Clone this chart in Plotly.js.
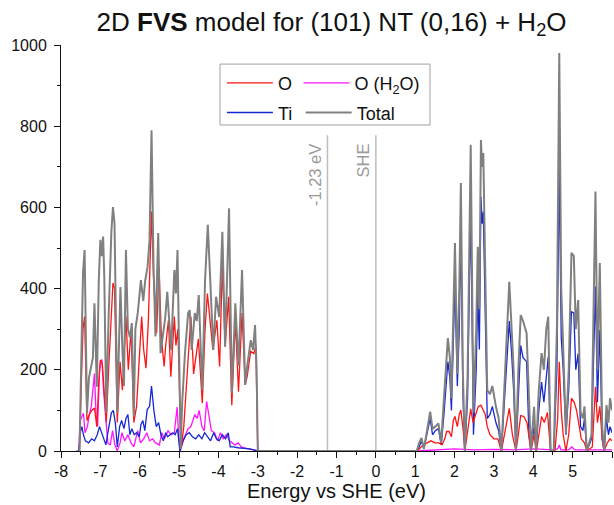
<!DOCTYPE html>
<html>
<head>
<meta charset="utf-8">
<script src="https://cdn.plot.ly/plotly-3.0.1.min.js"></script>
<style>html,body{margin:0;padding:0;background:#fff;}#chart{width:614px;height:505px;}</style>
</head>
<body>
<div id="chart"></div>
<script>
// Energy (eV vs SHE) / density-of-states pairs
const totalDOS = [
[-7.60,0],[-7.53,0],[-7.48,250],[-7.44,440],[-7.40,495],[-7.37,300],[-7.34,94],[-7.29,180],[-7.23,216],[-7.19,230],
[-7.15,364],[-7.09,158],[-7.04,420],[-7.00,520],[-6.97,480],[-6.93,528],[-6.90,430],[-6.85,94],[-6.79,330],[-6.72,540],
[-6.68,601],[-6.64,560],[-6.57,94],[-6.53,250],[-6.49,404],[-6.44,250],[-6.40,160],[-6.35,495],[-6.30,300],[-6.25,280],
[-6.20,315],[-6.15,85],[-6.11,300],[-6.05,340],[-5.97,421],[-5.91,370],[-5.86,420],[-5.80,454],[-5.75,520],[-5.70,790],
[-5.65,460],[-5.60,282],[-5.53,537],[-5.47,241],[-5.41,290],[-5.35,330],[-5.30,392],[-5.23,280],[-5.20,249],[-5.12,446],
[-5.08,388],[-5.04,495],[-4.96,5],[-4.92,120],[-4.85,241],[-4.77,340],[-4.73,347],[-4.68,249],[-4.60,340],[-4.55,320],
[-4.50,384],[-4.41,150],[-4.34,420],[-4.27,557],[-4.20,400],[-4.13,249],[-4.06,380],[-3.98,330],[-3.90,540],[-3.83,257],
[-3.73,598],[-3.66,142],[-3.57,364],[-3.49,210],[-3.40,446],[-3.32,163],[-3.27,208],[-3.18,273],[-3.12,249],[-3.07,310],
[-3.03,200],[-3.00,0],
[1.04,0],[1.10,20],[1.16,32],[1.22,5],[1.30,50],[1.38,97],[1.44,55],[1.51,60],[1.59,68],[1.66,20],
[1.73,130],[1.83,278],[1.88,230],[1.92,130],[2.01,512],[2.07,190],[2.12,400],[2.16,660],[2.21,200],[2.26,0],
[2.33,182],[2.41,754],[2.48,94],[2.55,300],[2.59,503],[2.63,350],[2.67,766],[2.70,700],[2.73,734],[2.78,400],
[2.83,150],[2.90,140],[2.96,160],[3.05,110],[3.12,80],[3.19,0],[3.28,200],[3.39,417],[3.45,300],[3.50,200],
[3.56,0],[3.62,200],[3.68,335],[3.74,320],[3.83,290],[3.89,100],[3.94,0],[4.02,109],[4.07,0],[4.14,150],
[4.21,241],[4.27,200],[4.33,300],[4.38,331],[4.44,0],[4.52,0],[4.60,300],[4.66,980],[4.71,400],[4.76,253],
[4.83,44],[4.90,200],[4.97,488],[5.03,480],[5.08,300],[5.14,372],[5.20,97],[5.26,80],[5.30,110],[5.36,0],
[5.48,40],[5.58,639],[5.63,200],[5.69,463],[5.75,60],[5.80,0],[5.86,113],[5.91,70],[5.95,130],[6.00,100]
];
const oxygenDOS = [
[-7.60,0],[-7.53,0],[-7.48,180],[-7.44,300],[-7.40,331],[-7.37,200],[-7.34,75],[-7.28,90],[-7.22,100],[-7.15,106],
[-7.09,60],[-7.04,170],[-7.00,224],[-6.95,215],[-6.90,130],[-6.85,70],[-6.79,200],[-6.73,330],[-6.68,414],[-6.64,400],
[-6.57,70],[-6.50,220],[-6.44,150],[-6.35,331],[-6.29,200],[-6.22,300],[-6.15,70],[-6.08,110],[-6.01,220],[-5.95,331],
[-5.90,250],[-5.84,204],[-5.78,322],[-5.74,462],[-5.70,590],[-5.65,430],[-5.57,290],[-5.51,454],[-5.45,280],[-5.38,208],
[-5.34,260],[-5.27,322],[-5.21,183],[-5.12,331],[-5.08,260],[-5.03,300],[-4.95,5],[-4.88,60],[-4.77,241],[-4.70,331],
[-4.63,190],[-4.57,230],[-4.51,276],[-4.41,118],[-4.34,300],[-4.28,388],[-4.22,330],[-4.14,249],[-4.04,322],[-3.97,208],
[-3.90,462],[-3.83,257],[-3.74,380],[-3.66,113],[-3.57,322],[-3.49,146],[-3.40,340],[-3.32,163],[-3.27,183],[-3.18,246],
[-3.10,240],[-3.05,260],[-3.00,0],
[1.04,0],[1.10,5],[1.20,15],[1.30,20],[1.40,25],[1.50,20],[1.60,20],[1.68,15],[1.75,30],[1.80,48],
[1.86,48],[1.92,35],[1.97,76],[2.01,85],[2.07,60],[2.12,90],[2.16,101],[2.22,50],[2.26,0],[2.32,40],
[2.41,104],[2.47,70],[2.53,90],[2.60,109],[2.67,113],[2.73,100],[2.78,90],[2.83,60],[2.90,40],[3.00,30],
[3.10,30],[3.19,0],[3.28,50],[3.39,105],[3.47,40],[3.56,0],[3.62,40],[3.68,87],[3.76,85],[3.84,70],
[3.94,0],[4.02,40],[4.08,0],[4.14,40],[4.21,85],[4.28,70],[4.36,95],[4.44,0],[4.55,0],[4.62,80],
[4.66,220],[4.71,100],[4.76,40],[4.83,0],[4.90,40],[4.97,130],[5.04,120],[5.10,100],[5.16,60],[5.22,30],
[5.30,20],[5.36,0],[5.50,10],[5.58,158],[5.63,70],[5.69,110],[5.75,30],[5.80,0],[5.88,20],[5.95,30],[6.00,25]
];
const waterOxygenDOS = [
[-7.60,0],[-7.55,0],[-7.51,76],[-7.46,90],[-7.43,93],[-7.39,45],[-7.33,60],[-7.28,90],[-7.23,110],[-7.15,191],
[-7.11,90],[-7.07,60],[-7.02,200],[-6.99,222],[-6.96,225],[-6.92,150],[-6.86,80],[-6.81,20],[-6.75,15],[-6.69,50],
[-6.63,15],[-6.57,0],[-6.50,20],[-6.45,45],[-6.38,25],[-6.30,40],[-6.22,20],[-6.15,10],[-6.05,50],[-5.98,20],
[-5.90,30],[-5.82,45],[-5.75,25],[-5.67,30],[-5.60,20],[-5.50,15],[-5.44,45],[-5.37,30],[-5.28,50],[-5.20,40],
[-5.12,45],[-5.05,108],[-5.01,40],[-4.97,0],[-4.88,30],[-4.77,55],[-4.70,60],[-4.60,90],[-4.54,80],[-4.49,100],
[-4.42,60],[-4.36,50],[-4.30,122],[-4.25,90],[-4.18,50],[-4.10,45],[-4.02,25],[-3.95,45],[-3.88,30],[-3.80,40],
[-3.72,25],[-3.65,20],[-3.58,15],[-3.50,20],[-3.42,10],[-3.35,8],[-3.25,5],[-3.10,3],[-3.00,0],
[1.04,0],[1.50,3],[2.00,5],[2.50,3],[3.00,4],[3.50,3],[4.00,5],[4.50,3],[4.62,5],[4.66,15],
[4.70,3],[4.90,3],[4.98,10],[5.05,3],[5.50,3],[6.00,3]
];
const titaniumDOS = [
[-7.60,0],[-7.55,0],[-7.50,50],[-7.47,60],[-7.43,40],[-7.38,25],[-7.30,20],[-7.22,30],[-7.15,25],[-7.08,40],
[-7.02,60],[-6.97,45],[-6.92,30],[-6.86,15],[-6.80,50],[-6.72,94],[-6.67,100],[-6.62,70],[-6.57,10],[-6.51,60],
[-6.46,75],[-6.40,55],[-6.35,80],[-6.30,90],[-6.25,40],[-6.20,55],[-6.14,40],[-6.08,45],[-6.01,35],[-5.97,65],
[-5.92,75],[-5.87,50],[-5.81,102],[-5.75,110],[-5.70,160],[-5.64,100],[-5.58,60],[-5.52,70],[-5.46,40],[-5.40,25],
[-5.34,45],[-5.29,35],[-5.23,40],[-5.16,45],[-5.10,40],[-5.04,55],[-4.98,0],[-4.90,25],[-4.82,40],[-4.74,45],
[-4.66,35],[-4.58,30],[-4.50,40],[-4.42,30],[-4.35,45],[-4.28,35],[-4.20,25],[-4.12,45],[-4.05,30],[-3.98,25],
[-3.90,40],[-3.82,30],[-3.75,45],[-3.70,10],[-3.62,10],[-3.50,8],[-3.35,6],[-3.20,5],[-3.00,0],
[1.04,0],[1.10,10],[1.16,25],[1.22,5],[1.30,40],[1.38,80],[1.44,40],[1.51,50],[1.59,55],[1.66,15],
[1.73,90],[1.83,220],[1.88,180],[1.92,100],[2.01,413],[2.07,160],[2.12,300],[2.16,552],[2.21,150],[2.26,0],
[2.33,130],[2.41,600],[2.48,40],[2.55,200],[2.59,390],[2.63,250],[2.67,626],[2.70,560],[2.73,590],[2.78,300],
[2.83,80],[2.90,90],[2.96,110],[3.05,70],[3.12,50],[3.19,0],[3.28,140],[3.39,320],[3.45,240],[3.50,150],
[3.56,0],[3.62,150],[3.68,260],[3.74,230],[3.83,220],[3.89,40],[3.94,0],[4.02,60],[4.07,0],[4.14,100],
[4.21,170],[4.27,120],[4.33,190],[4.38,232],[4.44,0],[4.52,0],[4.60,200],[4.66,697],[4.71,280],[4.76,200],
[4.83,40],[4.90,150],[4.97,343],[5.03,340],[5.08,200],[5.14,240],[5.20,60],[5.26,50],[5.30,80],[5.36,0],
[5.48,30],[5.58,405],[5.63,120],[5.69,298],[5.75,30],[5.80,0],[5.86,80],[5.91,40],[5.95,60],[6.00,45]
];
const seriesNames = ['O', 'O (H<sub>2</sub>O)', 'Ti', 'Total'];
const markerLines = [-1.23, 0];
const markerLabels = ['-1.23 eV', 'SHE'];
const xTicks = [-8,-7,-6,-5,-4,-3,-2,-1,0,1,2,3,4,5,6];
const yTicks = [0,200,400,600,800,1000];

const xs = a => a.map(p => p[0]);
const ys = a => a.map(p => p[1]);

function tr(data, name, color, width, legend) {
  return {x: xs(data), y: ys(data), type: 'scatter', mode: 'lines', name: name,
    line: {color: color, width: width}, legend: legend, hoverinfo: 'skip'};
}

const traces = [
  tr(waterOxygenDOS, seriesNames[1], '#ff14ff', 1.3, 'legend3'),
  tr(titaniumDOS, seriesNames[2], '#1428d2', 1.3, 'legend2'),
  tr(oxygenDOS, seriesNames[0], '#ff1414', 1.3, 'legend'),
  tr(totalDOS, seriesNames[3], '#808080', 2, 'legend4')
];

const legFont = {family: 'Liberation Sans, Arial, sans-serif', size: 18, color: '#111'};
function leg(x, y) {
  return {x: x, y: y, xanchor: 'left', yanchor: 'middle', bgcolor: 'rgba(0,0,0,0)',
    borderwidth: 0, font: legFont, itemwidth: 46};
}

const shapes = markerLines.map(v => ({type: 'line', xref: 'x', yref: 'y', x0: v, x1: v, y0: 0, y1: 778,
  line: {color: '#bdbdbd', width: 1.5}, layer: 'below'}));
shapes.push({type: 'rect', xref: 'paper', yref: 'paper', x0: 0.2886, x1: 0.6697, y0: 0.803, y1: 0.953,
  line: {color: '#a0a0a0', width: 1}, fillcolor: 'rgba(0,0,0,0)'});

const annotations = markerLines.map((v, i) => ({x: v, y: 762, xref: 'x', yref: 'y', text: markerLabels[i],
  textangle: -90, showarrow: false, xanchor: 'right', yanchor: 'top', xshift: -2,
  font: {family: 'Liberation Sans, Arial, sans-serif', size: 16.5, color: '#9a9a9a'}}));

const layout = {
  width: 614, height: 505,
  margin: {l: 61, r: 2, t: 45, b: 54},
  paper_bgcolor: '#fff', plot_bgcolor: '#fff',
  font: {family: 'Liberation Sans, Arial, sans-serif', color: '#111'},
  title: {text: '2D <b>FVS</b> model for (101) NT (0,16) + H<sub>2</sub>O', x: 0.491, xref: 'paper', xanchor: 'center',
    y: 0.957, yref: 'container', yanchor: 'middle', font: {size: 26, color: '#111'}},
  xaxis: {range: [-8, 6], tickvals: xTicks, ticktext: xTicks.map(String), showgrid: false, zeroline: false,
    showline: true, linecolor: '#111', linewidth: 1, ticks: 'outside', ticklen: 6, tickcolor: '#111',
    tickfont: {size: 16}, minor: {dtick: 0.5, ticks: 'outside', ticklen: 3, tickcolor: '#111', showgrid: false},
    automargin: true,
    title: {text: 'Energy vs SHE (eV)', font: {size: 20}, standoff: 0}},
  yaxis: {range: [0, 1000], tickvals: yTicks, ticktext: yTicks.map(String), showgrid: false, zeroline: false,
    showline: true, linecolor: '#111', linewidth: 1, ticks: 'outside', ticklen: 6, tickcolor: '#111',
    ticklabelstandoff: 4,
    tickfont: {size: 16}, minor: {dtick: 100, ticks: 'outside', ticklen: 3, tickcolor: '#111', showgrid: false}},
  legend: leg(0.292, 0.906),
  legend2: leg(0.292, 0.833),
  legend3: leg(0.431, 0.906),
  legend4: leg(0.435, 0.833),
  shapes: shapes,
  annotations: annotations,
  showlegend: true
};

Plotly.newPlot('chart', traces, layout, {staticPlot: true, displayModeBar: false});
</script>
</body>
</html>
